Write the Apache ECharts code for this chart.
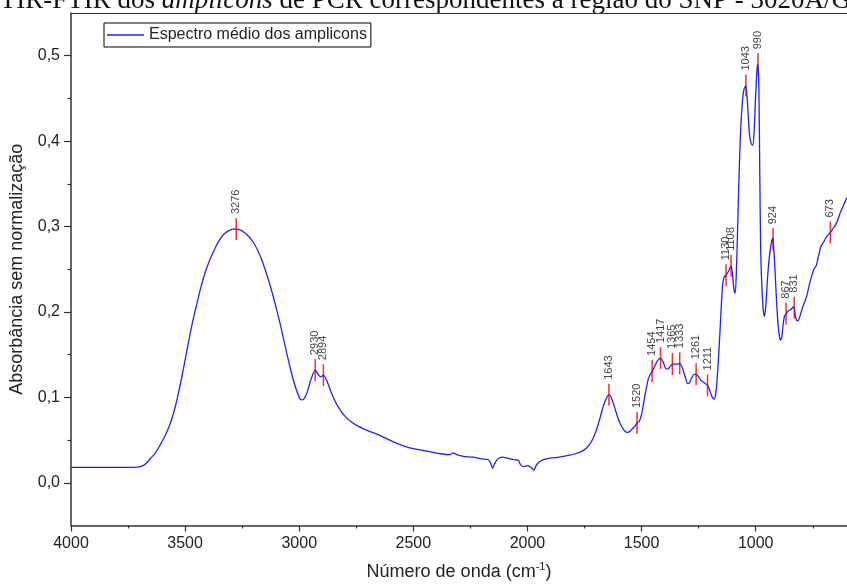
<!DOCTYPE html>
<html>
<head>
<meta charset="utf-8">
<script src="https://cdn.jsdelivr.net/npm/echarts@6/dist/echarts.min.js"></script>
<style>
html,body{margin:0;padding:0;background:#fff;}
#chart{width:847px;height:586px;}
</style>
</head>
<body>
<div id="chart"></div>
<script>
// ---- data ----
const seriesName = 'Espectro médio dos amplicons';
const wavenumbers = [4000,3900,3800,3720,3690,3670,3650,3630,3610,3590,3570,3550,3530,3510,3490,3470,3450,3430,3410,3390,3370,3350,3330,3310,3290,3276,3260,3240,3220,3200,3180,3160,3140,3120,3100,3080,3060,3040,3020,3000,2990,2980,2965,2950,2930,2915,2905,2894,2880,2860,2840,2820,2800,2770,2740,2700,2660,2620,2580,2540,2500,2460,2420,2380,2340,2325,2310,2280,2240,2200,2170,2160,2153,2145,2130,2110,2090,2060,2040,2030,2015,2000,1990,1980,1972,1962,1950,1930,1900,1860,1820,1790,1760,1740,1720,1700,1680,1665,1650,1643,1635,1620,1605,1590,1575,1560,1545,1530,1520,1510,1500,1490,1480,1470,1460,1454,1440,1430,1417,1405,1395,1385,1375,1365,1350,1340,1333,1322,1310,1298,1290,1280,1270,1261,1250,1240,1225,1211,1200,1190,1182,1175,1168,1160,1152,1145,1138,1130,1120,1108,1102,1095,1090,1085,1080,1075,1068,1060,1052,1043,1035,1028,1020,1013,1007,1000,994,990,986,982,978,972,966,961,955,948,940,932,926,924,918,912,905,898,892,886,880,874,867,858,845,836,831,826,820,814,805,795,785,775,765,755,745,735,725,715,700,690,680,673,660,650,640,630,620,610,600];
const absorbance = [0.018,0.018,0.018,0.018,0.0195,0.023,0.029,0.035,0.044,0.054,0.066,0.082,0.104,0.13,0.158,0.185,0.208,0.23,0.248,0.262,0.274,0.284,0.291,0.295,0.297,0.297,0.296,0.293,0.288,0.281,0.271,0.258,0.242,0.224,0.204,0.182,0.158,0.135,0.115,0.100,0.097,0.098,0.106,0.12,0.132,0.126,0.124,0.126,0.12,0.106,0.094,0.085,0.078,0.071,0.066,0.061,0.057,0.052,0.047,0.043,0.040,0.038,0.036,0.034,0.033,0.035,0.033,0.031,0.030,0.028,0.027,0.022,0.017,0.022,0.028,0.030,0.029,0.027,0.026,0.021,0.019,0.020,0.019,0.017,0.015,0.020,0.024,0.027,0.029,0.030,0.032,0.034,0.037,0.041,0.048,0.060,0.078,0.092,0.101,0.103,0.101,0.090,0.077,0.067,0.061,0.059,0.062,0.066,0.070,0.072,0.080,0.095,0.110,0.122,0.128,0.130,0.138,0.143,0.146,0.141,0.134,0.133,0.136,0.139,0.139,0.139,0.140,0.135,0.125,0.116,0.117,0.123,0.127,0.127,0.124,0.120,0.117,0.114,0.107,0.100,0.098,0.105,0.125,0.160,0.200,0.232,0.241,0.243,0.247,0.254,0.245,0.225,0.222,0.245,0.290,0.340,0.400,0.440,0.460,0.465,0.440,0.410,0.397,0.395,0.410,0.455,0.485,0.490,0.460,0.360,0.270,0.225,0.200,0.195,0.210,0.240,0.265,0.280,0.286,0.285,0.262,0.230,0.196,0.175,0.167,0.170,0.185,0.195,0.198,0.201,0.203,0.206,0.204,0.196,0.190,0.190,0.196,0.205,0.212,0.220,0.232,0.242,0.250,0.254,0.265,0.276,0.283,0.288,0.291,0.293,0.298,0.302,0.308,0.316,0.322,0.328,0.334];

const peakWn  = [3276,2930,2894,1643,1520,1454,1417,1365,1333,1261,1211,1130,1108,1043,990,924,867,831,673];
const peakAbs = [0.297,0.132,0.126,0.103,0.070,0.131,0.146,0.139,0.140,0.127,0.114,0.243,0.254,0.465,0.490,0.285,0.198,0.205,0.293];

const xLabelValues = [4000,3500,3000,2500,2000,1500,1000];
const xMinorValues = [3750,3250,2750,2250,1750,1250,750];
const yLabelValues = [0,0.1,0.2,0.3,0.4,0.5];
const yMinorValues = [0.05,0.15,0.25,0.35,0.45];

// ---- build ----
const FONT = '"Liberation Sans", Arial, sans-serif';
const lineData = wavenumbers.map((w,i)=>[w,absorbance[i]]);
const peakData = peakWn.map((w,i)=>[w,peakAbs[i]]);

const chart = echarts.init(document.getElementById('chart'), null, {renderer:'canvas'});
const axisCol = '#333';
const xBase = {type:'value', min:600, max:4000, inverse:true, gridIndex:0, splitLine:{show:false}};
const yBase = {type:'value', min:-0.05, max:0.55, gridIndex:0, splitLine:{show:false}};

chart.setOption({
  animation:false,
  backgroundColor:'#fff',
  grid:{left:71, top:13, right:-1, bottom:58, containLabel:false},
  legend:{
    show:true, left:104, top:23, orient:'horizontal',
    data:[{name:seriesName, icon:'rect'}],
    itemWidth:37, itemHeight:1.5, itemGap:5,
    padding:[4,4,4,3],
    borderColor:'#000', borderWidth:1, borderRadius:0,
    textStyle:{fontFamily:FONT, fontSize:16, color:'#222'}
  },
  xAxis:[
    Object.assign({}, xBase, {
      position:'bottom',
      name:'Número de onda (cm{sup|-1})', nameLocation:'middle', nameGap:36,
      nameTextStyle:{fontFamily:FONT, fontSize:18, color:'#222', rich:{sup:{fontFamily:FONT, fontSize:11, verticalAlign:'top', padding:[0,0,10,0], color:'#222'}}},
      axisLine:{show:true, onZero:false, lineStyle:{color:axisCol, width:1.5}},
      axisTick:{show:true, inside:false, length:6, customValues:xLabelValues, lineStyle:{color:axisCol, width:1.2}},
      axisLabel:{show:true, margin:10, customValues:xLabelValues, fontFamily:FONT, fontSize:16, color:'#222',
        formatter:(v)=>String(Math.round(v))}
    }),
    Object.assign({}, xBase, {
      position:'bottom',
      axisLine:{show:false, onZero:false},
      axisTick:{show:true, inside:false, length:3, customValues:xMinorValues, lineStyle:{color:axisCol, width:1.2}},
      axisLabel:{show:false}
    }),
    Object.assign({}, xBase, {
      position:'top',
      axisLine:{show:true, onZero:false, lineStyle:{color:axisCol, width:1.2}},
      axisTick:{show:false}, axisLabel:{show:false}
    })
  ],
  yAxis:[
    Object.assign({}, yBase, {
      position:'left',
      name:'Absorbância sem normalização', nameLocation:'middle', nameGap:45,
      nameTextStyle:{fontFamily:FONT, fontSize:18, color:'#222'},
      axisLine:{show:true, onZero:false, lineStyle:{color:axisCol, width:1.5}},
      axisTick:{show:true, inside:false, length:7, customValues:yLabelValues, lineStyle:{color:axisCol, width:1.2}},
      axisLabel:{show:true, margin:11, customValues:yLabelValues, fontFamily:FONT, fontSize:16, color:'#222',
        formatter:(v)=>v.toFixed(1).replace('.', ',')}
    }),
    Object.assign({}, yBase, {
      position:'left',
      axisLine:{show:false, onZero:false},
      axisTick:{show:true, inside:false, length:3.5, customValues:yMinorValues, lineStyle:{color:axisCol, width:1.2}},
      axisLabel:{show:false}
    })
  ],
  graphic:[{
    type:'text', x:851, y:14, silent:true,
    style:{
      text:'{n|FTIR-FTIR dos }{i|amplicons}{n| de PCR correspondentes à região do SNP - 3020A/G}',
      align:'right', verticalAlign:'bottom',
      rich:{
        n:{fontFamily:'"Liberation Serif", serif', fontSize:27, fill:'#111', color:'#111'},
        i:{fontFamily:'"Liberation Serif", serif', fontSize:27, fontStyle:'italic', fill:'#111', color:'#111'}
      }
    }
  }],
  series:[
    {
      name:seriesName, type:'line', xAxisIndex:0, yAxisIndex:0,
      data:lineData, showSymbol:false, symbol:'none', smooth:0.25, clip:true,
      lineStyle:{color:'#1f1fff', width:1.3}, itemStyle:{color:'#1f1fff'}
    },
    {
      name:'peaks', type:'custom', xAxisIndex:0, yAxisIndex:0, clip:false,
      data:peakData,
      renderItem:function(params, api){
        const p = api.coord([api.value(0), api.value(1)]);
        const lbl = String(peakWn[params.dataIndex]);
        return {type:'group', children:[
          {type:'line', shape:{x1:p[0], y1:p[1]-11, x2:p[0], y2:p[1]+11},
           style:{stroke:'#ff2a2a', lineWidth:1.5}},
          {type:'text', x:p[0], y:p[1]-15, rotation:Math.PI/2,
           style:{text:lbl, font:'11px "Liberation Sans", Arial, sans-serif', fill:'#444', align:'left', verticalAlign:'middle'}}
        ]};
      }
    }
  ]
});
</script>
</body>
</html>
